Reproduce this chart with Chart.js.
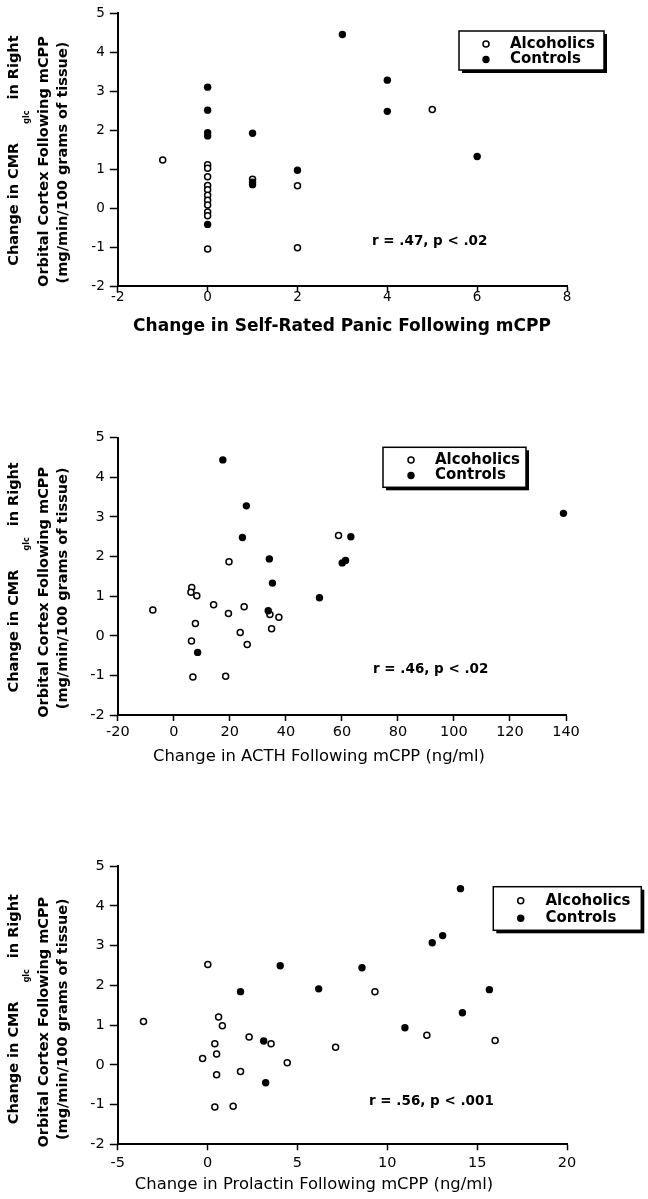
<!DOCTYPE html>
<html>
<head>
<meta charset="utf-8">
<title>Change in CMRglc vs mCPP responses</title>
<script src="https://cdn.jsdelivr.net/npm/chart.js@4.4.1/dist/chart.umd.min.js"></script>
<style>
    html, body { margin: 0; padding: 0; background: #fff; }
    canvas { position: absolute; left: 0; }
</style>
</head>
<body>
<canvas id="grafico-panico" width="648" height="400" style="top:0"></canvas>
<canvas id="grafico-acth" width="648" height="400" style="top:400px"></canvas>
<canvas id="grafico-prolactina" width="648" height="399" style="top:800px"></canvas>
<script>
// Eixo y comum aos três painéis
const yTicks = [-2, -1, 0, 1, 2, 3, 4, 5];
const seriesLabels = ['Alcoholics', 'Controls'];

// Painel 1: pânico auto-avaliado
const panicTicks = [-2, 0, 2, 4, 6, 8];
const panicAlcoholicsX = [-1, 0, 0, 0, 0, 0, 0, 0, 0, 0, 0, 0, 1, 2, 2, 5];
const panicAlcoholicsY = [1.23, 1.11, 1.02, 0.80, 0.58, 0.47, 0.33, 0.20, 0.08, -0.10, -0.20, -1.05, 0.74, 0.57, -1.02, 2.53];
const panicControlsX = [0, 0, 0, 0, 0, 1, 1, 1, 2, 3, 4, 4, 6];
const panicControlsY = [3.10, 2.51, 1.93, 1.85, -0.42, 1.92, 0.66, 0.60, 0.97, 4.45, 3.28, 2.48, 1.32];

// Painel 2: ACTH
const acthTicks = [-20, 0, 20, 40, 60, 80, 100, 120, 140];
const acthAlcoholicsX = [-7.5, 6.4, 6.1, 8.2, 7.7, 6.3, 6.8, 14.2, 19.7, 19.5, 18.5, 25.1, 23.7, 26.2, 34.3, 37.5, 34.9, 58.8];
const acthAlcoholicsY = [0.65, 1.22, 1.10, 1.01, 0.31, -0.13, -1.04, 0.78, 1.87, 0.56, -1.02, 0.73, 0.08, -0.22, 0.54, 0.47, 0.18, 2.53];
const acthControlsX = [17.5, 25.9, 24.5, 34.1, 35.2, 33.7, 8.5, 52.0, 63.2, 60.1, 61.3, 139.1];
const acthControlsY = [4.44, 3.28, 2.48, 1.94, 1.33, 0.63, -0.42, 0.96, 2.50, 1.84, 1.90, 3.09];

// Painel 3: prolactina
const prolactinTicks = [-5, 0, 5, 10, 15, 20];
const prolactinAlcoholicsX = [-3.57, 0.01, -0.28, 0.61, 0.82, 0.40, 0.50, 0.50, 0.40, 1.42, 1.83, 2.31, 3.53, 4.43, 7.12, 9.31, 12.2, 16.0];
const prolactinAlcoholicsY = [1.09, 2.52, 0.16, 1.20, 0.98, 0.53, 0.27, -0.25, -1.06, -1.04, -0.17, 0.70, 0.53, 0.05, 0.44, 1.84, 0.74, 0.61];
const prolactinControlsX = [1.83, 4.04, 3.12, 3.23, 6.18, 8.59, 10.98, 12.5, 13.08, 14.07, 14.18, 15.68];
const prolactinControlsY = [1.84, 2.49, 0.60, -0.45, 1.91, 2.44, 0.93, 3.07, 3.25, 4.43, 1.31, 1.89];

const FONTE = '"DejaVu Sans", Verdana, sans-serif';
const X_AXIS_H = 60;

// Títulos do eixo y, com subscrito "glc"
function desenharTituloY(ctx, area, desloc) {
    const meio = (area.top + area.bottom) / 2;
    const fonte = 'bold 14.5px ' + FONTE;
    const fonteSub = 'bold 8px ' + FONTE;

    ctx.textBaseline = 'middle';
    ctx.textAlign = 'left';

    // linha 1
    ctx.font = fonte;
    const w1 = ctx.measureText('Change in CMR').width;
    const w3 = ctx.measureText('in Right').width;
    ctx.font = fonteSub;
    const w2 = ctx.measureText('glc').width;
    const gapA = 19, gapB = 11;
    const total = w1 + gapA + w2 + gapB + w3;

    ctx.save();
    ctx.translate(14.5, meio + desloc[0]);
    ctx.rotate(-Math.PI / 2);
    let pos = -total / 2;
    ctx.font = fonte;
    ctx.fillText('Change in CMR', pos, 0);
    pos += w1 + gapA;
    ctx.font = fonteSub;
    ctx.fillText('glc', pos, 12);
    pos += w2 + gapB;
    ctx.font = fonte;
    ctx.fillText('in Right', pos, 0);
    ctx.restore();

    // linhas 2 e 3
    ctx.textAlign = 'center';
    [['Orbital Cortex Following mCPP', 44.5, desloc[1]],
     ['(mg/min/100 grams of tissue)', 63, desloc[2]]].forEach(([txt, x, d]) => {
        ctx.save();
        ctx.translate(x, meio + d);
        ctx.rotate(-Math.PI / 2);
        ctx.font = fonte;
        ctx.fillText(txt, 0, 0);
        ctx.restore();
    });
}

function desenharLegenda(ctx, chart, lg) {
    ctx.fillStyle = '#000';
    ctx.fillRect(lg.x + 3, lg.y + 3, lg.w, lg.h);
    ctx.fillStyle = '#fff';
    ctx.fillRect(lg.x, lg.y, lg.w, lg.h);
    ctx.strokeStyle = '#000';
    ctx.lineWidth = 1.5;
    ctx.strokeRect(lg.x, lg.y, lg.w, lg.h);

    ctx.font = 'bold 15px ' + FONTE;
    ctx.textAlign = 'left';
    ctx.textBaseline = 'middle';
    chart.data.datasets.forEach((ds, i) => {
        const y = lg.linhas[i];
        ctx.beginPath();
        ctx.arc(lg.marcaX, y, ds.pointRadius, 0, Math.PI * 2);
        ctx.fillStyle = ds.pointBackgroundColor;
        ctx.fill();
        if (ds.pointBorderWidth > 0) {
            ctx.lineWidth = ds.pointBorderWidth;
            ctx.strokeStyle = '#000';
            ctx.stroke();
        }
        ctx.fillStyle = '#000';
        ctx.fillText(ds.label, lg.textoX, y);
    });
}

const decoracoes = {
    id: 'decoracoes',
    afterDraw(chart, args, opts) {
        const ctx = chart.ctx;
        ctx.save();
        ctx.fillStyle = '#000';

        desenharTituloY(ctx, chart.chartArea, opts.deslocY);

        // título do eixo x
        ctx.font = opts.tituloX.fonte;
        ctx.textAlign = 'center';
        ctx.textBaseline = 'middle';
        ctx.fillText(opts.tituloX.texto, opts.tituloX.x, opts.tituloX.y);

        // correlação
        ctx.font = 'bold 13.5px ' + FONTE;
        ctx.textAlign = 'left';
        ctx.fillText(opts.estatistica.texto, opts.estatistica.x, opts.estatistica.y);

        desenharLegenda(ctx, chart, opts.legenda);
        ctx.restore();
    }
};

function pontos(xs, ys) {
    return xs.map((x, i) => ({ x: x, y: ys[i] }));
}

function criarPainel(p) {
    const canvas = document.getElementById(p.id);
    const altura = canvas.height;

    return new Chart(canvas.getContext('2d'), {
        type: 'scatter',
        data: {
            datasets: [
                {
                    label: seriesLabels[0],
                    data: pontos(p.alcX, p.alcY),
                    pointRadius: 3,
                    pointBorderWidth: 1.5,
                    pointBackgroundColor: '#fff',
                    pointBorderColor: '#000',
                    order: 1,
                    clip: false
                },
                {
                    label: seriesLabels[1],
                    data: pontos(p.ctrlX, p.ctrlY),
                    pointRadius: 3.7,
                    pointBorderWidth: 0,
                    pointBackgroundColor: '#000',
                    pointBorderColor: '#000',
                    order: 0,
                    clip: false
                }
            ]
        },
        options: {
            responsive: false,
            animation: false,
            events: [],
            layout: {
                padding: {
                    top: p.area.top,
                    left: 0,
                    right: canvas.width - p.area.right,
                    bottom: altura - p.area.bottom - X_AXIS_H
                }
            },
            scales: {
                x: {
                    type: 'linear',
                    min: p.xTicks[0],
                    max: p.xTicks[p.xTicks.length - 1],
                    afterBuildTicks: scale => { scale.ticks = p.xTicks.map(v => ({ value: v })); },
                    afterFit: scale => { scale.height = X_AXIS_H; },
                    border: { display: true, color: '#000', width: 2 },
                    grid: { drawOnChartArea: false, drawTicks: true, tickLength: 6, tickColor: '#000', tickWidth: 1.5 },
                    ticks: {
                        color: '#000',
                        autoSkip: false,
                        maxRotation: 0,
                        padding: p.xTickPad,
                        font: { family: FONTE, size: p.tickFonte, lineHeight: 1 }
                    }
                },
                y: {
                    type: 'linear',
                    min: yTicks[0],
                    max: yTicks[yTicks.length - 1],
                    afterBuildTicks: scale => { scale.ticks = yTicks.map(v => ({ value: v })); },
                    afterFit: scale => { scale.width = p.area.left; },
                    border: { display: true, color: '#000', width: 2 },
                    grid: { drawOnChartArea: false, drawTicks: true, tickLength: 8, tickColor: '#000', tickWidth: 1.5 },
                    ticks: {
                        color: '#000',
                        padding: 5,
                        font: { family: FONTE, size: p.tickFonte }
                    }
                }
            },
            plugins: {
                legend: { display: false },
                tooltip: { enabled: false },
                decoracoes: {
                    deslocY: p.deslocY,
                    tituloX: p.tituloX,
                    estatistica: p.estatistica,
                    legenda: p.legenda
                }
            }
        },
        plugins: [decoracoes]
    });
}

criarPainel({
    id: 'grafico-panico',
    area: { top: 10, bottom: 286, left: 117.8, right: 567 },
    xTicks: panicTicks,
    alcX: panicAlcoholicsX, alcY: panicAlcoholicsY,
    ctrlX: panicControlsX, ctrlY: panicControlsY,
    tickFonte: 13.5, xTickPad: -1,
    deslocY: [1, 12, 13],
    tituloX: { texto: 'Change in Self-Rated Panic Following mCPP', fonte: 'bold 17px ' + FONTE, x: 342, y: 327 },
    estatistica: { texto: 'r = .47, p < .02', x: 372, y: 241.7 },
    legenda: { x: 459, y: 31, w: 145, h: 39, marcaX: 486, textoX: 510, linhas: [44, 59.5] }
});

criarPainel({
    id: 'grafico-acth',
    area: { top: 37.7, bottom: 315, left: 117.8, right: 566 },
    xTicks: acthTicks,
    alcX: acthAlcoholicsX, alcY: acthAlcoholicsY,
    ctrlX: acthControlsX, ctrlY: acthControlsY,
    tickFonte: 14.5, xTickPad: 3.5,
    deslocY: [1, 16, 12],
    tituloX: { texto: 'Change in ACTH Following mCPP (ng/ml)', fonte: '16.4px ' + FONTE, x: 319, y: 357 },
    estatistica: { texto: 'r = .46, p < .02', x: 373, y: 269 },
    legenda: { x: 383, y: 47.3, w: 143, h: 40, marcaX: 411, textoX: 435, linhas: [60, 75.5] }
});

criarPainel({
    id: 'grafico-prolactina',
    area: { top: 66, bottom: 344.3, left: 117.8, right: 567 },
    xTicks: prolactinTicks,
    alcX: prolactinAlcoholicsX, alcY: prolactinAlcoholicsY,
    ctrlX: prolactinControlsX, ctrlY: prolactinControlsY,
    tickFonte: 14.5, xTickPad: 6,
    deslocY: [4, 17, 14],
    tituloX: { texto: 'Change in Prolactin Following mCPP (ng/ml)', fonte: '16.4px ' + FONTE, x: 314, y: 385 },
    estatistica: { texto: 'r = .56, p < .001', x: 369, y: 301 },
    legenda: { x: 493.3, y: 86.7, w: 148, h: 43.6, marcaX: 520.7, textoX: 545.5, linhas: [100.7, 118.3] }
});
</script>
</body>
</html>
